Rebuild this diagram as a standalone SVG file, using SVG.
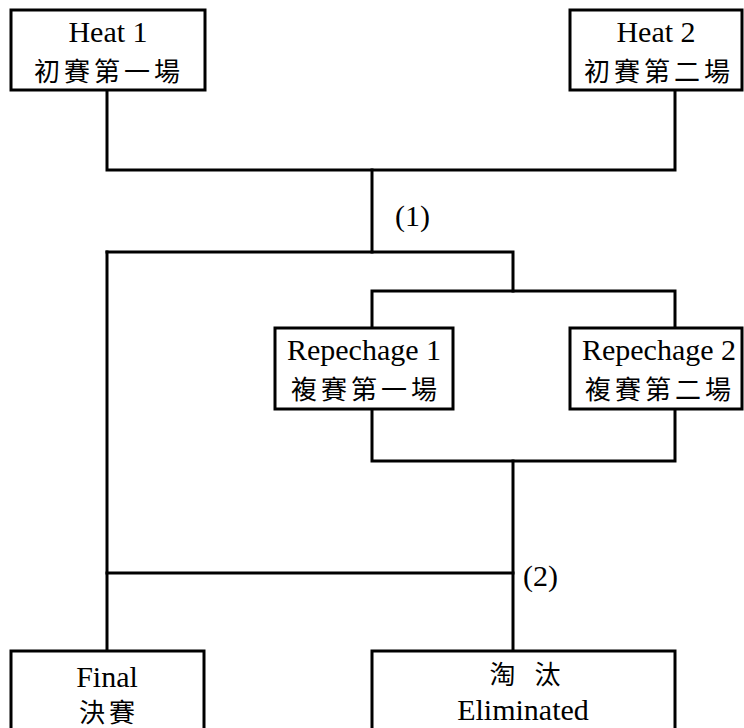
<svg xmlns="http://www.w3.org/2000/svg" width="744" height="728" viewBox="0 0 744 728">
<style>
.box{fill:#fff;stroke:#000;stroke-width:3}
.ln{fill:none;stroke:#000;stroke-width:3;stroke-linecap:square}
text{font-family:"Liberation Serif","Noto Sans CJK TC",serif;font-size:30px;fill:#000}
.c{text-anchor:middle}
.cjk{font-family:"Noto Sans CJK TC","Liberation Serif",sans-serif;font-size:26px;letter-spacing:4px;text-anchor:middle}
</style>
<rect width="744" height="728" fill="#fff"/>
<g id="connectors">
<path class="ln" d="M107 90V170H675V90"/>
<path class="ln" d="M372 170V252"/>
<path class="ln" d="M107 252H513V291"/>
<path class="ln" d="M372 328V291H675V328"/>
<path class="ln" d="M372 409V461H675V409"/>
<path class="ln" d="M513 461V651"/>
<path class="ln" d="M107 252V651"/>
<path class="ln" d="M107 573H513"/>
<text x="395" y="226">(1)</text>
<text x="523" y="586">(2)</text>
</g>
<g id="heat1">
<rect class="box" x="11" y="10" width="194" height="80"/>
<text class="c" x="108" y="42">Heat 1</text>
<text class="cjk" x="109" y="81">初賽第一場</text>
</g>
<g id="heat2">
<rect class="box" x="570" y="10" width="172" height="80"/>
<text class="c" x="656" y="42">Heat 2</text>
<text class="cjk" x="659" y="81">初賽第二場</text>
</g>
<g id="repechage1">
<rect class="box" x="275" y="328" width="178" height="81"/>
<text class="c" x="364" y="360">Repechage 1</text>
<text class="cjk" x="366" y="399">複賽第一場</text>
</g>
<g id="repechage2">
<rect class="box" x="570" y="328" width="172" height="81"/>
<text class="c" x="659" y="360">Repechage 2</text>
<text class="cjk" x="660" y="399">複賽第二場</text>
</g>
<g id="final">
<rect class="box" x="11" y="651" width="193" height="90"/>
<text class="c" x="107" y="687">Final</text>
<text class="cjk" x="109" y="722">決賽</text>
</g>
<g id="eliminated">
<rect class="box" x="372" y="651" width="303" height="90"/>
<text class="cjk" x="527" y="684">淘 <tspan dx="5">汰</tspan></text>
<text class="c" x="523" y="720">Eliminated</text>
</g>
</svg>
